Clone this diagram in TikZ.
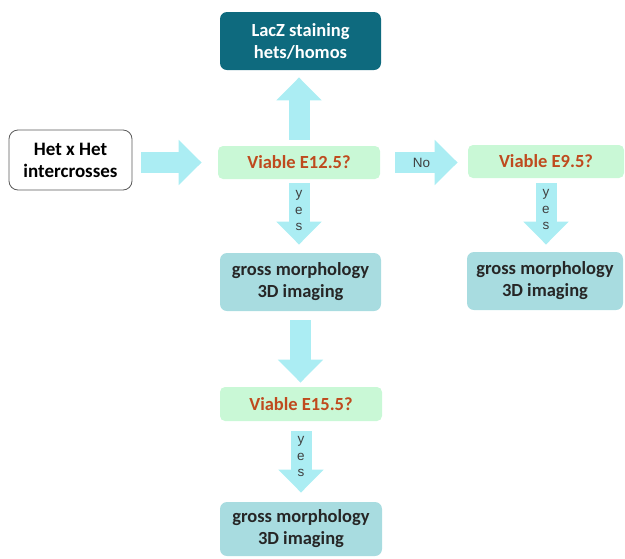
\documentclass[tikz,border=0pt]{standalone}
\usepackage{fontspec}
\setmainfont{Carlito}
\newfontfamily\labelfont{Liberation Sans}
\usetikzlibrary{arrows.meta}
\definecolor{laczteal}{HTML}{0E6A7E}
\definecolor{viablegreen}{HTML}{C9F8D6}
\definecolor{viabletext}{HTML}{BF4A1E}
\definecolor{grossblue}{HTML}{A8DCE0}
\definecolor{arrowcyan}{HTML}{ABEDF3}
\definecolor{hetborder}{HTML}{5A5A5A}
\begin{document}
\begin{tikzpicture}[thick, x=1pt, y=-1pt,
	box/.style={rounded corners=7pt, align=center, inner sep=0pt, font=\fontsize{18.5}{22}\selectfont\bfseries},
	viable/.style={box, fill=viablegreen, text=viabletext, minimum width=162pt, minimum height=33pt, rounded corners=5pt},
	gross/.style={box, fill=grossblue, text=black!85, minimum width=161pt, minimum height=58pt},
	fat/.style={arrowcyan, line width=21pt, -{Triangle[width=44pt,length=23pt]}},
	tag/.style={text=black!75, inner sep=0pt, align=center, font=\labelfont\fontsize{13.5}{16.5}\selectfont}]
	\useasboundingbox (0,0) rectangle (625,558);
	\clip (0,0) rectangle (625,558);
	\node[box, fill=laczteal, text=white, minimum width=161pt, minimum height=58pt] (lacz) at (300.5,41) {LacZ staining\\hets/homos};
	\node[box, draw=hetborder, fill=white, minimum width=123pt, minimum height=60pt, rounded corners=9pt, font=\fontsize{19}{22}\selectfont\bfseries] (het) at (70.5,160) {Het x Het\\intercrosses};
	\node[viable] (e12) at (299,162.5) {Viable E12.5?};
	\node[viable, minimum width=156pt] (e9) at (546,161.5) {Viable E9.5?};
	\node[gross] (gm1) at (300.5,282) {gross morphology\\3D imaging};
	\node[gross, minimum width=156pt] (gm2) at (545,281) {gross morphology\\3D imaging};
	\node[viable, minimum height=34pt] (e15) at (301,404) {Viable E15.5?};
	\node[gross, minimum width=162pt, minimum height=54pt] (gm3) at (301,529) {gross morphology\\3D imaging};
	\draw[fat, shorten <=6pt, shorten >=7pt] (e12.north) -- (e12.north |- lacz.south);
	\draw[fat, shorten <=9pt, shorten >=16pt] (het.east |- e12.west) -- (e12.west);
	\draw[fat, shorten <=15pt, shorten >=10pt] (e12.east) -- (e12.east -| e9.west) node[tag, pos=0.47] {No};
	\draw[fat, shorten <=4pt, shorten >=8pt] (e12.south) -- (e12.south |- gm1.north) node[tag, pos=0.43] {y\\e\\s};
	\draw[fat, shorten <=5pt, shorten >=7pt] (e9.south) -- (e9.south |- gm2.north) node[tag, pos=0.43] {y\\e\\s};
	\draw[fat, shorten <=9pt, shorten >=4pt] (gm1.south) -- (gm1.south |- e15.north);
	\draw[fat, shorten <=10pt, shorten >=9pt] (e15.south) -- (e15.south |- gm3.north) node[tag, pos=0.44] {y\\e\\s};
\end{tikzpicture}
\end{document}
